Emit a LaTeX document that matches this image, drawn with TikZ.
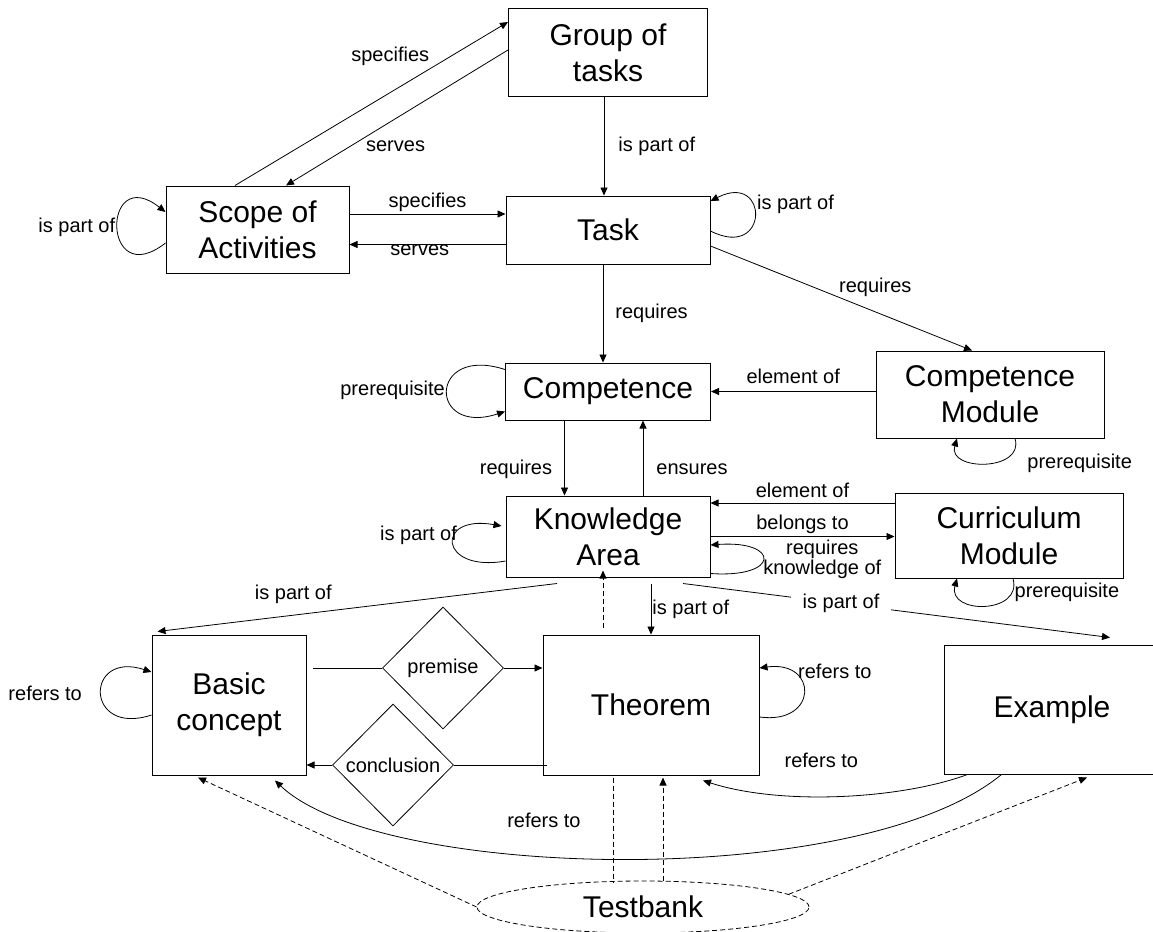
\documentclass[tikz,border=0pt]{standalone}
\usepackage{fontspec}
\setmainfont{Liberation Sans}
\usetikzlibrary{arrows.meta,positioning,shapes.geometric,calc}
\tikzset{
  % Concept box: large label inside
  cbox/.style={draw, rectangle, line width=1pt, align=center, inner sep=0pt,
               font=\fontsize{30}{36}\selectfont},
  % Relation diamond
  relbox/.style={draw, diamond, aspect=1, line width=0.8pt, inner sep=0pt,
                 minimum width=121pt, minimum height=122pt,
                 font=\fontsize{20}{24}\selectfont},
  % Store ellipse
  storebox/.style={draw, ellipse, line width=0.8pt, inner sep=0pt,
                   dash pattern=on 5pt off 3pt, font=\fontsize{30}{36}\selectfont},
  % Edge labels
  lbl/.style={font=\fontsize{20}{20}\selectfont, inner sep=2pt},
  % Arrows
  rel/.style={-{Triangle[length=8pt,width=7pt]}, line width=0.8pt},
  relplain/.style={line width=0.8pt},
  reldash/.style={rel, dash pattern=on 5pt off 3pt},
  relplain-dash/.style={relplain, dash pattern=on 5pt off 3pt}
}

\begin{document}
\begin{tikzpicture}[x=1pt, y=-1pt]
\path[use as bounding box, fill=white] (0,0) rectangle (1153,931);

% ============== CENTRAL COLUMN ==============
\node[cbox, minimum width=199pt, minimum height=88pt] (group) at (608,53) {Group of\\tasks};
\node[cbox, minimum width=204pt, minimum height=68pt, below=98pt of group] (task) {Task};
\node[cbox, minimum width=205pt, minimum height=57pt, below=98pt of task] (comp) {Competence};
\node[cbox, minimum width=204pt, minimum height=81pt, below=75pt of comp] (ka) {Knowledge\\Area};

% ============== SIDE BOXES ==============
\node[cbox, minimum width=183pt, minimum height=87pt] (scope) at (257.5,229.5) {Scope of\\Activities};
\node[cbox, minimum width=228pt, minimum height=87pt] (cmod) at (990,394.5) {Competence\\Module};
\node[cbox, minimum width=228pt, minimum height=85pt] (cumod) at (1009,535.5) {Curriculum\\Module};

% ============== BOTTOM ROW ==============
\node[cbox, minimum width=154pt, minimum height=140pt] (basic) at (229,705) {Basic\\concept};
\node[cbox, minimum width=216pt, minimum height=140pt] (theorem) at (651,705) {Theorem};
\node[cbox, minimum width=216pt, minimum height=129pt] (example) at (1052,709.5) {Example};
\node[relbox] (premise) at (443,668) {premise};
\node[relbox] (conclusion) at (393,765) {conclusion};
\node[storebox, minimum width=332pt, minimum height=52pt] (testbank) at (643,907) {Testbank};

% ============== TOP: scope / group / task ==============
\draw[rel] ([xshift=-22.5pt]scope.north) -- node[lbl, pos=.72, anchor=south east] {specifies} ([yshift=31pt]group.west);
\draw[rel] ([yshift=3pt]group.west) -- node[lbl, pos=.65, anchor=north west] {serves} ([xshift=28.5pt]scope.north);
\draw[rel] ([xshift=-4pt]group.south) -- node[lbl, right, xshift=12pt] {is part of} ([xshift=-4pt]task.north);
\draw[rel] ([yshift=15.5pt]scope.east) -- node[lbl, above] {specifies} ([yshift=15.5pt]scope.east -| task.west);
\draw[rel] ([yshift=-14.5pt]task.west) -- node[lbl, pos=.55, below, inner sep=0pt] {serves} ([yshift=-14.5pt]task.west -| scope.east);
\draw[rel] ([yshift=-13.5pt]scope.west) .. controls +(-64pt,-50pt) and +(-64pt,50pt) .. ([yshift=17.5pt]scope.west)
  node[lbl, pos=.5, left] {is part of};
\draw[rel] ([yshift=-1pt]task.east) .. controls +(59pt,-30pt) and +(59pt,30pt) .. ([yshift=29pt]task.east)
  node[lbl, pos=.5, right, yshift=12pt] {is part of};

% ============== MIDDLE: competence ==============
\draw[rel] ([xshift=-5pt]task.south) -- node[lbl, right, xshift=10pt] {requires} ([xshift=-5pt]comp.north);
\draw[rel] ([yshift=-16pt]task.east) -- node[lbl, pos=.63, above=13pt] {requires} ([xshift=-18pt]cmod.north);
\draw[rel] (cmod.west |- comp.east) -- node[lbl, above, yshift=5pt] {element of} (comp.east);
\draw[rel] ([yshift=22pt]comp.west) .. controls +(-77pt,25pt) and +(-77pt,-25pt) .. ([yshift=-20pt]comp.west)
  node[lbl, pos=.5, left] {prerequisite};
\draw[rel] ([xshift=25pt]cmod.south) .. controls +(10pt,-33pt) and +(-10pt,-33pt) .. ([xshift=-33pt]cmod.south)
  node[lbl, pos=.3, anchor=west, xshift=20pt, yshift=-4pt] {prerequisite};
\draw[rel] ([xshift=-43.5pt]comp.south) -- node[lbl, pos=.65, left=10pt] {requires} ([xshift=-43.5pt]ka.north);
\draw[rel] ([xshift=35pt]ka.north) -- node[lbl, pos=.35, right=11pt] {ensures} ([xshift=35pt]comp.south);

% ============== KNOWLEDGE AREA ==============
\draw[rel] ([yshift=32.5pt]cumod.west) -- node[lbl, above, yshift=3pt] {element of} ([yshift=32.5pt]cumod.west -| ka.east);
\draw[rel] (ka.east) -- node[lbl, above] {belongs to} (ka.east -| cumod.west);
\draw[rel] ([yshift=-37pt]ka.east) .. controls +(70pt,-5pt) and +(70pt,5pt) .. ([yshift=-8.5pt]ka.east)
  node[lbl, pos=.5, right, inner sep=0pt, align=center] {requires\\knowledge of};
\draw[rel] ([yshift=-24.5pt]ka.west) .. controls +(-67pt,-12pt) and +(-67pt,12pt) .. ([xshift=-4pt,yshift=10.5pt]ka.west)
  node[lbl, pos=.5, left, xshift=6pt, yshift=8pt] {is part of};
\draw[rel] ([xshift=4pt]cumod.south) .. controls +(10pt,-36pt) and +(-10pt,-36pt) .. ([xshift=-52pt]cumod.south)
  node[lbl, pos=.15, right] {prerequisite};
\draw[rel] ([xshift=-51pt,yshift=-6pt]ka.south) -- node[lbl, pos=.66, above=9pt] {is part of} ([xshift=6pt,yshift=3pt]basic.north west);
\draw[reldash] ([xshift=-48pt,yshift=7pt]theorem.north) -- ([xshift=-48pt,yshift=7pt]theorem.north |- ka.south);
\draw[rel] ([yshift=-6pt]ka.south -| theorem.north) -- node[lbl, right, inner sep=1pt] {is part of} (theorem.north);
\draw[rel] ([xshift=75pt,yshift=-6pt]ka.south) -- node[lbl, pos=.37, fill=white, inner xsep=12pt] {is part of} ([xshift=58pt,yshift=7pt]example.north);

% ============== BOTTOM: premise / conclusion / refers to ==============
\draw[relplain] ([xshift=6pt]basic.east |- premise.west) -- (premise.west);
\draw[rel] (premise.east) -- (premise.east -| theorem.west);
\draw[relplain] ([xshift=4pt]theorem.west |- conclusion.east) -- (conclusion.east);
\draw[rel] (conclusion.west) -- (conclusion.west -| basic.east);
\draw[rel] ([yshift=-12pt]theorem.east) .. controls +(59pt,-8pt) and +(59pt,8pt) .. ([yshift=37pt]theorem.east)
  node[lbl, pos=.5, anchor=west, xshift=-8pt, yshift=21pt] {refers to};
\draw[rel] ([yshift=-10pt]basic.west) .. controls +(-67pt,-22pt) and +(-67pt,22pt) .. ([yshift=33pt]basic.west)
  node[lbl, pos=.5, left=17pt] {refers to};
\draw[rel] ([xshift=24pt]example.south west) .. controls +(-68pt,-25pt) and +(77pt,-25pt) .. ([xshift=52pt,yshift=-5pt]theorem.south)
  node[lbl, pos=.56, above=26pt] {refers to};
\draw[rel] ([xshift=58pt]example.south west) .. controls +(-142pt,-117pt) and +(105pt,-100pt) .. ([xshift=46pt,yshift=-5pt]basic.south)
  node[lbl, pos=.59, above=26pt] {refers to};

% ============== TESTBANK ==============
\draw[reldash] (testbank.west) -- ([xshift=-31pt,yshift=-2pt]basic.south);
\draw[relplain-dash] ([xshift=-38pt,yshift=-2pt]theorem.south) -- ([xshift=-38pt,yshift=-2pt]theorem.south |- testbank.north);
\draw[reldash] ([xshift=12pt]theorem.south |- testbank.north) -- ([xshift=12pt,yshift=-2pt]theorem.south);
\draw[reldash] (testbank.5) -- ([xshift=35pt,yshift=-3pt]example.south);

\end{tikzpicture}
\end{document}
